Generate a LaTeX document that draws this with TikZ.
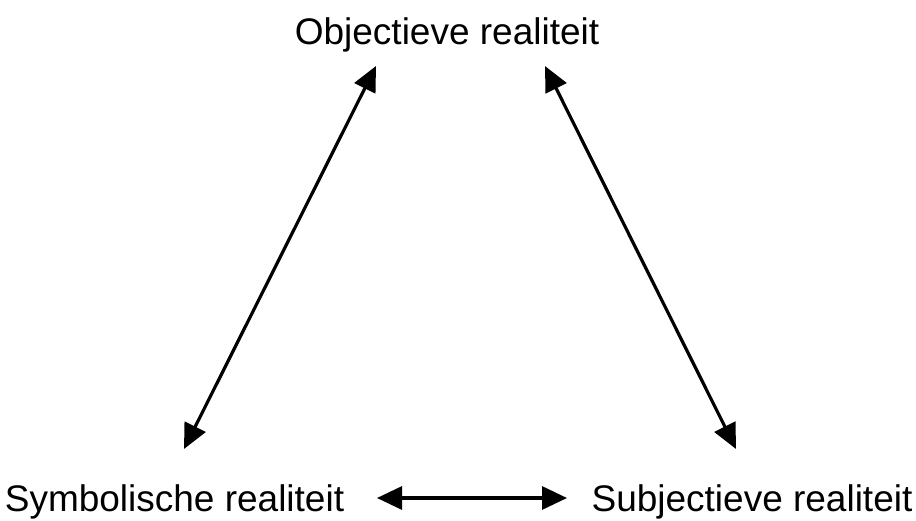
\documentclass[tikz,border=0pt]{standalone}
\usepackage{fontspec}
\setmainfont{Liberation Sans}
\usetikzlibrary{arrows.meta, positioning, calc}
\tikzset{
  label/.style={font=\fontsize{37}{44}\selectfont, inner sep=0pt, anchor=base},
  arrow/.style={{Triangle[length=25pt, width=23pt]}-{Triangle[length=25pt, width=23pt]}, line width=3.2pt, color=black}
}

\begin{document}
\begin{tikzpicture}[x=1pt, y=1pt]
  \useasboundingbox (0,0) rectangle (916,520);
  \node[label] (obj)  at (447,475) {Objectieve realiteit};
  \node[label] (sym)  at (174.5,9) {Symbolische realiteit};
  \node[label] (subj) at (752,9)   {Subjectieve realiteit};

  % arrow ends
  \coordinate (objL)  at (376,454);
  \coordinate (objR)  at (545,454);
  \coordinate (symT)  at (184,71);
  \coordinate (subjT) at (736,71);
  \coordinate (symR)  at (377,22);
  \coordinate (subjL) at (567,22);

  \draw[arrow] (symT) -- (objL);
  \draw[arrow] (subjT) -- (objR);
  \draw[arrow] (symR) -- (subjL);
\end{tikzpicture}
\end{document}
